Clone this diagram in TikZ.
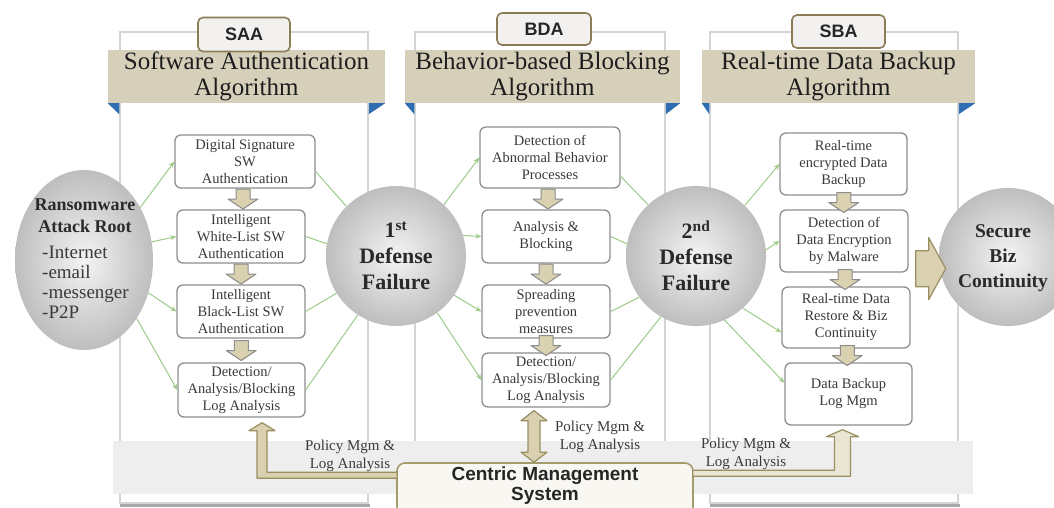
\documentclass[tikz,border=0pt]{standalone}
\usepackage{fontspec}
\setmainfont{Liberation Serif}
\newfontfamily\sansfnt{Liberation Sans}
\usetikzlibrary{shapes.geometric,arrows.meta,calc}
\definecolor{panelgray}{HTML}{D4D4D4}
\definecolor{shadowgray}{HTML}{A8A8A8}
\definecolor{bargray}{HTML}{EEEEEE}
\definecolor{bandtan}{HTML}{D6D0BB}
\definecolor{titlecol}{HTML}{1E1E1E}
\definecolor{tagbrown}{HTML}{8A7C55}
\definecolor{tagfill}{HTML}{F3F1EF}
\definecolor{boxgray}{HTML}{8E8E8E}
\definecolor{boxtext}{HTML}{3A3A3A}
\definecolor{ballin}{HTML}{F4F4F4}
\definecolor{ballout}{HTML}{BEBEBE}
\definecolor{balltext}{HTML}{2A2A2A}
\definecolor{arrgreen}{HTML}{9DCB88}
\definecolor{arrtan}{HTML}{D9D1B0}
\definecolor{arrgrayb}{HTML}{8C8C8C}
\definecolor{arrolive}{HTML}{9A8F63}
\definecolor{bluetri}{HTML}{2F6DB3}
\definecolor{cmsfill}{HTML}{F8F7F2}
\definecolor{cmsdraw}{HTML}{A59A6C}
\newcommand{\dnarrow}[2]{\draw[tanblk] ($(#1.south)!0.5!(#2.north)$) +(-7,-10) -- +(7,-10) -- +(7,0) -- +(15,0) -- +(0,10) -- +(-15,0) -- +(-7,0) -- cycle;}
\begin{document}
\begin{tikzpicture}[x=1pt,y=-1pt,
 panel/.style={draw=panelgray, line width=1.5pt, fill=white, minimum width=248pt, minimum height=471pt, inner sep=0pt},
 bar/.style={fill=bargray, minimum width=860pt, minimum height=53pt, inner sep=0pt},
 band/.style={fill=bandtan, minimum width=277pt, minimum height=53pt, inner sep=0pt, align=center, font=\fontsize{25}{26}\selectfont, text=titlecol},
 tag/.style={draw=tagbrown, line width=1.6pt, fill=tagfill, rounded corners=5pt, minimum width=92pt, minimum height=34pt, inner sep=0pt, font=\sansfnt\bfseries\fontsize{18}{20}\selectfont, text=black!85},
 box/.style={draw=boxgray, line width=1.3pt, fill=white, rounded corners=6pt, align=center, inner sep=1pt, font=\fontsize{14.5}{17}\selectfont, text=boxtext},
 ball/.style={circle, minimum size=140pt, shading=radial, inner color=ballin, outer color=ballout, align=center, font=\bfseries\fontsize{22}{26}\selectfont, text=balltext, inner sep=0pt},
 garrow/.style={draw=arrgreen, line width=1pt, -{Stealth[length=6pt,width=5pt]}},
 gline/.style={draw=arrgreen, line width=1pt},
 tanblk/.style={fill=arrtan, draw=arrgrayb, line width=1pt, line join=round},
 cmsblk/.style={fill=arrtan, draw=arrolive, line width=1.2pt, line join=round},
 lbl/.style={font=\fontsize{15}{18}\selectfont, align=center, text=boxtext, inner sep=0pt},
 tri/.style={fill=bluetri}]
\clip (0,0) rectangle (1054,508);
\fill[white] (0,0) rectangle (1054,508);
% panels
\node[panel] (p1) at (244,267.5) {};
\node[panel, minimum width=250pt] (p2) at (540,267.5) {};
\node[panel] (p3) at (834,267.5) {};
\foreach \p in {p1,p2,p3}{\draw[shadowgray, line width=3pt] ($(\p.south west)+(1,2)$) -- ($(\p.south east)+(1,2)$);}
% bottom bar
\node[bar] (bar) at (543,467.5) {};
% bands
\node[band] (band1) at (246.5,76.5) {Software Authentication\\Algorithm};
\node[band, minimum width=275pt] (band2) at (542.5,76.5) {Behavior-based Blocking\\Algorithm};
\node[band, minimum width=273pt] (band3) at (838.5,76.5) {Real-time Data Backup\\Algorithm};
\fill[tri] (band1.south west) -- (p1.west |- band1.south) -- ++(0,11) -- cycle;
\fill[tri] (band1.south east) -- (p1.east |- band1.south) -- ++(0,11) -- cycle;
\fill[tri] (band2.south west) -- (p2.west |- band2.south) -- ++(0,11) -- cycle;
\fill[tri] (band2.south east) -- (p2.east |- band2.south) -- ++(0,11) -- cycle;
\fill[tri] (band3.south west) -- (p3.west |- band3.south) -- ++(0,11) -- cycle;
\fill[tri] (band3.south east) -- (p3.east |- band3.south) -- ++(0,11) -- cycle;
% tags
\node[tag] (tag1) at (244,34.5) {SAA};
\node[tag, minimum width=94pt, minimum height=32pt] (tag2) at (544,29) {BDA};
\node[tag, minimum width=93pt, minimum height=33pt] (tag3) at (838.5,31.5) {SBA};
% attack root
\node[ellipse, minimum width=138pt, minimum height=180pt, shading=radial, inner color=ballin, outer color=ballout] (rw) at (84,260) {};
\node[font=\bfseries\fontsize{18}{22}\selectfont, align=center, text=balltext, inner sep=0pt] (rwt) at (85,216) {Ransomware\\Attack Root};
\node[anchor=north west, align=left, font=\fontsize{19}{20}\selectfont, inner sep=0pt, text=boxtext] (rwl) at (42,246) {-Internet\\-email\\-messenger\\-P2P};
% defense circles
\node[ball] (c1) at (396,256) {1\textsuperscript{st}\\Defense\\Failure};
\node[ball] (c2) at (696,256) {2\textsuperscript{nd}\\Defense\\Failure};
\node[ball, minimum size=138pt] (sec) at (1008,257) {};
\node[align=center, font=\bfseries\fontsize{19.5}{25}\selectfont, text=balltext, inner sep=0pt] (sect) at (1003,258) {Secure\\Biz\\Continuity};
% SAA boxes
\node[box, minimum width=140pt, minimum height=53pt] (s1) at (245,161.5) {Digital Signature\\SW\\Authentication};
\node[box, minimum width=128pt, minimum height=53pt] (s2) at (241,236.5) {Intelligent\\White-List SW\\Authentication};
\node[box, minimum width=128pt, minimum height=53pt] (s3) at (241,311.5) {Intelligent\\Black-List SW\\Authentication};
\node[box, minimum width=127pt, minimum height=54pt] (s4) at (241.5,390) {Detection/\\Analysis/Blocking\\Log Analysis};
% BDA boxes
\node[box, minimum width=140pt, minimum height=61pt] (b1) at (550,157.5) {Detection of\\Abnormal Behavior\\Processes};
\node[box, minimum width=128pt, minimum height=53pt] (b2) at (546,236.5) {Analysis \&\\Blocking};
\node[box, minimum width=128pt, minimum height=53pt] (b3) at (546,311.5) {Spreading\\prevention\\measures};
\node[box, minimum width=128pt, minimum height=54pt] (b4) at (546,380) {Detection/\\Analysis/Blocking\\Log Analysis};
% SBA boxes
\node[box, minimum width=127pt, minimum height=62pt] (d1) at (843.5,164) {Real-time\\encrypted Data\\Backup};
\node[box, minimum width=128pt, minimum height=62pt] (d2) at (844,241) {Detection of\\Data Encryption\\by Malware};
\node[box, minimum width=128pt, minimum height=61pt] (d3) at (846,317.5) {Real-time Data\\Restore \& Biz\\Continuity};
\node[box, minimum width=127pt, minimum height=62pt] (d4) at (848.5,394) {Data Backup\\Log Mgm};
% green connectors: attack root -> SAA
\draw[garrow] (rw.43) -- (s1.west);
\draw[garrow] (rw.15) -- (s2.west);
\draw[garrow] (rw.-27) -- (s3.west);
\draw[garrow] (rw.-48) -- (s4.west);
% SAA -> 1st failure
\draw[gline] (s1.-8) -- (c1.135);
\draw[gline] (s2.east) -- (c1.170);
\draw[gline] (s3.east) -- (c1.212);
\draw[gline] (s4.east) -- (c1.237);
% 1st failure -> BDA
\draw[garrow] (c1.47) -- (b1.west);
\draw[garrow] (c1.17) -- (b2.west);
\draw[garrow] (c1.-34) -- (b3.west);
\draw[garrow] (c1.-54) -- (b4.west);
% BDA -> 2nd failure
\draw[gline] (b1.-15) -- (c2.133);
\draw[gline] (b2.east) -- (c2.170);
\draw[gline] (b3.east) -- (c2.216);
\draw[gline] (b4.east) -- (c2.240);
% 2nd failure -> SBA
\draw[garrow] (c2.46) -- (d1.west);
\draw[garrow] (c2.5) -- (d2.west);
\draw[garrow] (c2.-48) -- (d3.193);
\draw[garrow] (c2.-66) -- (d4.170);
% down block arrows
\dnarrow{s1}{s2}\dnarrow{s2}{s3}\dnarrow{s3}{s4}
\dnarrow{b1}{b2}\dnarrow{b2}{b3}\dnarrow{b3}{b4}
\dnarrow{d1}{d2}\dnarrow{d2}{d3}\dnarrow{d3}{d4}
% arrow to secure continuity
\coordinate (ra) at ($(d2.south east)+(7,-4)$);
\draw[cmsblk] ($(ra)+(0,-18)$) -- ($(ra)+(13,-18)$) -- ($(ra)+(13,-31)$) -- ($(ra)+(30,0)$) -- ($(ra)+(13,31)$) -- ($(ra)+(13,18)$) -- ($(ra)+(0,18)$) -- cycle;
% management system
\node[draw=cmsdraw, line width=1.6pt, fill=cmsfill, rounded corners=8pt, minimum width=296pt, minimum height=52pt, inner sep=0pt] (cms) at (545,489) {};
\node[align=center, inner sep=0pt, font=\sansfnt\bfseries\fontsize{19}{20}\selectfont, text=black!85] (cmst) at (545,486) {Centric Management\\System};
% left L arrow
\coordinate (lt) at ($(s4.south)+(20.5,5)$);
\coordinate (lc) at ($(lt |- cms.north)+(0,13)$);
\coordinate (lw) at (cms.west |- lc);
\draw[cmsblk] (lt) -- ($(lt)+(13,8)$) -- ($(lt)+(5,8)$) -- ($(lc)+(5,-3)$) -- ($(lw)+(1,-3)$) -- ($(lw)+(1,3)$) -- ($(lc)+(-5,3)$) -- ($(lt)+(-5,8)$) -- ($(lt)+(-13,8)$) -- cycle;
% right L arrow
\coordinate (rt) at ($(d4.south)+(-6,4)$);
\coordinate (rc) at ($(rt |- cms.north)+(0,11)$);
\coordinate (re) at (cms.east |- rc);
\draw[cmsblk, fill=arrtan!55!white] (rt) -- ($(rt)+(16,7)$) -- ($(rt)+(8,7)$) -- ($(rc)+(8,3)$) -- ($(re)+(-1,3)$) -- ($(re)+(-1,-3)$) -- ($(rc)+(-8,-3)$) -- ($(rt)+(-8,7)$) -- ($(rt)+(-16,7)$) -- cycle;
% middle double arrow
\coordinate (dt) at ($(b4.south)+(-12,3)$);
\coordinate (db) at (dt |- cms.north);
\draw[cmsblk] (dt) -- ($(dt)+(13,10)$) -- ($(dt)+(6,10)$) -- ($(db)+(6,-10)$) -- ($(db)+(13,-10)$) -- (db) -- ($(db)+(-13,-10)$) -- ($(db)+(-6,-10)$) -- ($(dt)+(-6,10)$) -- ($(dt)+(-13,10)$) -- cycle;
% labels
\node[lbl] (lab1) at (350,456) {Policy Mgm \&\\Log Analysis};
\node[lbl] (lab2) at (600,437) {Policy Mgm \&\\Log Analysis};
\node[lbl] (lab3) at (746,454) {Policy Mgm \&\\Log Analysis};
\end{tikzpicture}
\end{document}
